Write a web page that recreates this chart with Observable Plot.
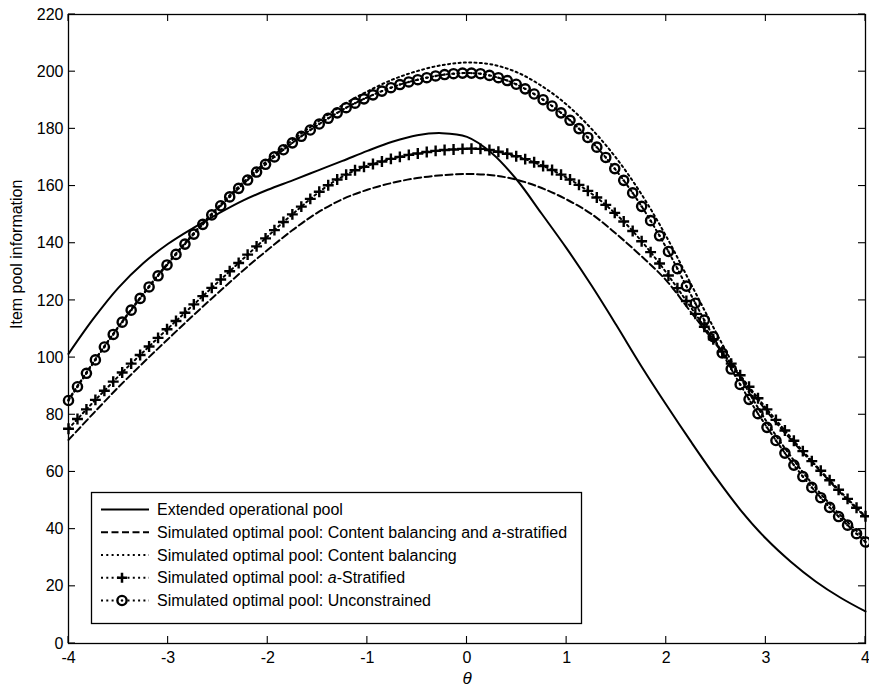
<!DOCTYPE html>
<html>
<head>
<meta charset="utf-8">
<script src="https://cdn.jsdelivr.net/npm/d3@7"></script>
<script src="https://cdn.jsdelivr.net/npm/@observablehq/plot@0.6"></script>
<style>
  body { margin: 0; background: #fff; }
  svg { display: block; }
</style>
</head>
<body>
<div id="chart"></div>
<script>
// theta grid of the marker series (90 points from -4 to 4)
const theta90 = [
  -4.000, -3.910, -3.820, -3.730, -3.640, -3.551, -3.461, -3.371, -3.281, -3.191,
  -3.101, -3.011, -2.921, -2.831, -2.742, -2.652, -2.562, -2.472, -2.382, -2.292,
  -2.202, -2.112, -2.022, -1.933, -1.843, -1.753, -1.663, -1.573, -1.483, -1.393,
  -1.303, -1.213, -1.124, -1.034, -0.944, -0.854, -0.764, -0.674, -0.584, -0.494,
  -0.404, -0.315, -0.225, -0.135, -0.045, 0.045, 0.135, 0.225, 0.315, 0.404,
  0.494, 0.584, 0.674, 0.764, 0.854, 0.944, 1.034, 1.124, 1.213, 1.303,
  1.393, 1.483, 1.573, 1.663, 1.753, 1.843, 1.933, 2.022, 2.112, 2.202,
  2.292, 2.382, 2.472, 2.562, 2.652, 2.742, 2.831, 2.921, 3.011, 3.101,
  3.191, 3.281, 3.371, 3.461, 3.551, 3.640, 3.730, 3.820, 3.910, 4.000
];
// Simulated optimal pool: Unconstrained (circles)
const unconstrained = [
  85.0, 89.8, 94.5, 99.2, 103.7, 108.1, 112.4, 116.6, 120.7, 124.7,
  128.6, 132.4, 136.1, 139.7, 143.2, 146.6, 149.9, 153.1, 156.2, 159.2,
  162.1, 164.9, 167.6, 170.2, 172.7, 175.1, 177.4, 179.6, 181.7, 183.7,
  185.6, 187.4, 189.0, 190.5, 191.9, 193.2, 194.4, 195.5, 196.4, 197.2,
  197.9, 198.5, 199.0, 199.3, 199.5, 199.5, 199.3, 198.7, 197.9, 196.9,
  195.6, 194.0, 192.2, 190.2, 188.0, 185.6, 183.0, 180.1, 177.0, 173.6,
  170.0, 166.1, 162.0, 157.6, 152.9, 147.9, 142.6, 137.1, 131.1, 125.0,
  119.0, 113.1, 107.3, 101.6, 96.0, 90.6, 85.4, 80.4, 75.6, 71.0,
  66.6, 62.4, 58.4, 54.6, 51.0, 47.6, 44.4, 41.4, 38.4, 35.5
];
// Simulated optimal pool: a-Stratified (plus markers)
const aStratified = [
  75.1, 78.5, 81.9, 85.2, 88.4, 91.6, 94.8, 97.9, 100.9, 103.9,
  106.9, 109.9, 112.8, 115.7, 118.6, 121.5, 124.4, 127.3, 130.2, 133.1,
  136.0, 138.9, 141.7, 144.6, 147.4, 150.1, 152.8, 155.5, 158.0, 160.3,
  162.3, 164.0, 165.5, 166.7, 167.7, 168.6, 169.5, 170.2, 170.9, 171.4,
  171.9, 172.3, 172.6, 172.8, 173.0, 173.1, 173.0, 172.6, 172.0, 171.3,
  170.4, 169.4, 168.3, 167.0, 165.6, 164.0, 162.3, 160.4, 158.3, 156.0,
  153.4, 150.6, 147.6, 144.3, 140.7, 136.9, 132.9, 128.7, 124.3, 119.8,
  115.3, 110.8, 106.4, 102.1, 97.9, 93.8, 89.8, 85.8, 81.9, 78.2,
  74.5, 70.9, 67.3, 63.8, 60.4, 57.1, 53.8, 50.6, 47.5, 44.5
];
// theta grid of the plain line series
const theta33 = [
  -4, -3.75, -3.5, -3.25, -3, -2.75, -2.5, -2.25, -2, -1.75, -1.5, -1.25, -1, -0.75, -0.5, -0.25,
  0, 0.25, 0.5, 0.75, 1, 1.25, 1.5, 1.75, 2, 2.25, 2.5, 2.75, 3, 3.25, 3.5, 3.75, 4
];
// Extended operational pool (solid)
const extendedOperational = [
  101.3, 113.6, 124.4, 133.0, 139.8, 145.3, 150.3, 154.9, 158.7, 162.0, 165.4, 168.8, 172.3, 175.5, 177.8, 178.5,
  177.2, 171.5, 162.2, 150.3, 138.2, 125.2, 111.3, 97.0, 83.5, 70.5, 58.0, 46.5, 36.7, 28.6, 21.7, 16.0, 11.2
];
// Simulated optimal pool: Content balancing and a-stratified (dashed)
const contentBalancingAStratified = [
  71.2, 80.5, 89.6, 98.2, 106.5, 114.7, 122.6, 130.4, 137.7, 144.6, 150.7, 155.4, 158.7, 161.1, 162.8, 163.8,
  164.2, 163.8, 162.2, 159.3, 155.3, 150.2, 143.2, 135.5, 127.0, 115.8, 104.6, 93.0, 81.6, 71.4, 62.0, 52.7, 44.2
];
// Simulated optimal pool: Content balancing (dotted)
const contentBalancing = [
  85.3, 98.5, 110.8, 122.4, 133.2, 143.3, 152.6, 161.2, 169.0, 176.1, 182.4, 188.3, 193.1, 197.2, 200.2, 202.3,
  203.2, 202.5, 199.8, 195.0, 188.5, 180.0, 169.7, 157.2, 142.4, 125.6, 108.8, 92.7, 78.0, 65.5, 54.4, 44.8, 36.5
];
const xTicks = [-4, -3, -2, -1, 0, 1, 2, 3, 4];
const yTicks = [0, 20, 40, 60, 80, 100, 120, 140, 160, 180, 200, 220];
const legendLabels = [
  "Extended operational pool",
  "Simulated optimal pool: Content balancing and a-stratified",
  "Simulated optimal pool: Content balancing",
  "Simulated optimal pool: a-Stratified",
  "Simulated optimal pool: Unconstrained"
];
const xLabel = "θ";
const yLabel = "Item pool information";

const rows = (xs, ys) => xs.map((t, i) => ({theta: t, value: ys[i]}));
const solidRows = rows(theta33, extendedOperational);
const dashedRows = rows(theta33, contentBalancingAStratified);
const dottedRows = rows(theta33, contentBalancing);
const plusRows = rows(theta90, aStratified);
const circleRows = rows(theta90, unconstrained);

const FONT = "'Liberation Sans', Arial, Helvetica, sans-serif";
const DASH = "7,3.5";
const DOT = "2,3.3";

const chart = Plot.plot({
  width: 869,
  height: 693,
  marginLeft: 68,
  marginRight: 4,
  marginTop: 14,
  marginBottom: 50,
  style: {fontFamily: FONT, fontSize: "16px", background: "white", color: "black"},
  x: {domain: [-4, 4], label: null},
  y: {domain: [0, 220], label: null},
  marks: [
    Plot.lineY(solidRows, {x: "theta", y: "value", stroke: "black", strokeWidth: 2, curve: "catmull-rom"}),
    Plot.lineY(dashedRows, {x: "theta", y: "value", stroke: "black", strokeWidth: 2, strokeDasharray: DASH, curve: "catmull-rom"}),
    Plot.lineY(dottedRows, {x: "theta", y: "value", stroke: "black", strokeWidth: 2, strokeDasharray: DOT, curve: "catmull-rom"}),
    Plot.lineY(plusRows, {x: "theta", y: "value", stroke: "black", strokeWidth: 2, strokeDasharray: DOT}),
    Plot.dot(plusRows, {x: "theta", y: "value", symbol: "plus", r: 3.6, stroke: "black", strokeWidth: 2.4}),
    Plot.lineY(circleRows, {x: "theta", y: "value", stroke: "black", strokeWidth: 2, strokeDasharray: DOT}),
    Plot.dot(circleRows, {x: "theta", y: "value", r: 4.6, stroke: "black", strokeWidth: 2.4, fill: "none"}),
    Plot.dot(circleRows, {x: "theta", y: "value", r: 1.2, fill: "black", stroke: null}),
    Plot.axisX({anchor: "bottom", ticks: xTicks, tickSize: 0, tickPadding: 8, tickFormat: d => String(d), label: null}),
    Plot.axisY({anchor: "left", ticks: yTicks, tickSize: 0, tickPadding: 5, tickFormat: d => String(d), label: null}),
    Plot.frame({stroke: "black", strokeWidth: 1.3}),
    Plot.text([yLabel], {frameAnchor: "left", dx: -52, rotate: -90, fontSize: 16, letterSpacing: "1.2px"}),
    Plot.text([xLabel], {frameAnchor: "bottom", dy: 40, fontSize: 17, fontStyle: "italic"})
  ]
});

const svg = d3.select(chart);
const sx = chart.scale("x"), sy = chart.scale("y");
const X0 = sx.apply(-4), X1 = sx.apply(4), Y0 = sy.apply(0), Y1 = sy.apply(220);
const TL = 7;

// inward tick marks on all four sides (MATLAB box style)
const tg = svg.append("g").attr("stroke", "black").attr("stroke-width", 1.1);
xTicks.forEach(v => {
  const x = sx.apply(v);
  tg.append("line").attr("x1", x).attr("x2", x).attr("y1", Y0).attr("y2", Y0 - TL);
  tg.append("line").attr("x1", x).attr("x2", x).attr("y1", Y1).attr("y2", Y1 + TL);
});
yTicks.forEach(v => {
  const y = sy.apply(v);
  tg.append("line").attr("x1", X0).attr("x2", X0 + TL).attr("y1", y).attr("y2", y);
  tg.append("line").attr("x1", X1).attr("x2", X1 - TL).attr("y1", y).attr("y2", y);
});

// Legend box (inside plot, lower left)
const lg = svg.append("g").attr("font-family", FONT).attr("font-size", 16)
  .attr("fill", "black").attr("text-anchor", "start");
const bx = 91, by = 492, bw = 490, bh = 131;
lg.append("rect").attr("x", bx + 0.5).attr("y", by + 0.5).attr("width", bw).attr("height", bh)
  .attr("fill", "white").attr("stroke", "black").attr("stroke-width", 1.3);
const rowY = i => by + 17.5 + i * 22.75;
const styles = [
  {dash: null}, {dash: DASH}, {dash: DOT}, {dash: DOT, marker: "plus"}, {dash: DOT, marker: "circle"}
];
legendLabels.forEach((label, i) => {
  const y = rowY(i);
  const ln = lg.append("line").attr("x1", 101).attr("x2", 149).attr("y1", y).attr("y2", y)
    .attr("stroke", "black").attr("stroke-width", 2);
  if (styles[i].dash) ln.attr("stroke-dasharray", styles[i].dash);
  const mx = 122;
  if (styles[i].marker === "plus") {
    lg.append("path").attr("d", `M${mx - 5},${y}H${mx + 5}M${mx},${y - 5}V${y + 5}`)
      .attr("stroke", "black").attr("stroke-width", 2.5).attr("fill", "none");
  } else if (styles[i].marker === "circle") {
    lg.append("circle").attr("cx", mx).attr("cy", y).attr("r", 4.6).attr("fill", "white")
      .attr("stroke", "black").attr("stroke-width", 2.4);
    lg.append("circle").attr("cx", mx).attr("cy", y).attr("r", 1.2).attr("fill", "black");
  }
  const t = lg.append("text").attr("x", 157).attr("y", y).attr("dy", "0.35em").attr("text-anchor", "start");
  const m = label.match(/^(.*[ ])a(-[A-Za-z]+)$/);
  if (m) {
    t.append("tspan").text(m[1]);
    t.append("tspan").attr("font-style", "italic").text("a");
    t.append("tspan").text(m[2]);
  } else {
    t.text(label);
  }
});

document.getElementById("chart").appendChild(chart);
</script>
</body>
</html>
